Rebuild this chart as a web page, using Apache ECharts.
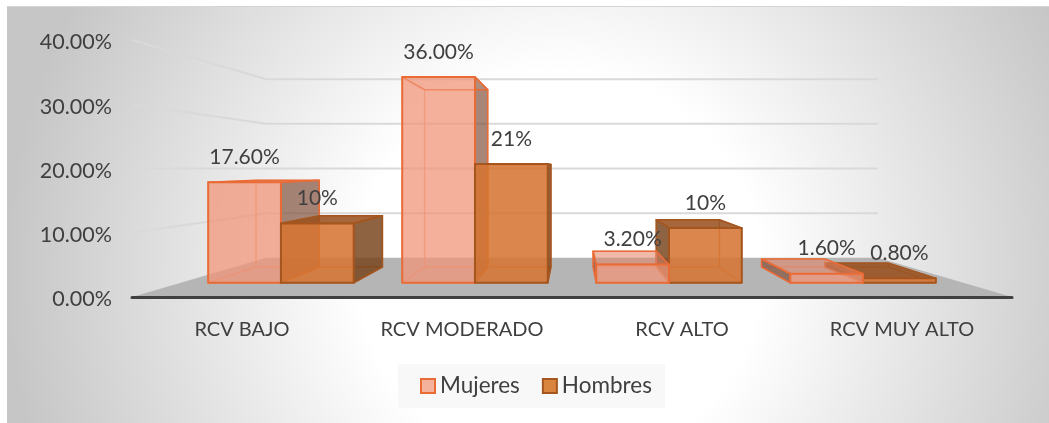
<!DOCTYPE html>
<html>
<head>
<meta charset="utf-8">
<script src="https://cdn.jsdelivr.net/npm/echarts@6/dist/echarts.min.js"></script>
<style>
  html, body { margin: 0; padding: 0; background: #fff; overflow: hidden; }
  #fondo { position: absolute; left: 7px; top: 6px; width: 1042px; height: 417px;
    background: radial-gradient(circle 555px at 553px 264px, #fff 36%, #c6c6c6 100%);
    border-top: 1px solid #d4d4d4; box-sizing: border-box; }
  #chart { position: absolute; left: 0; top: 0; width: 1049px; height: 423px; }
</style>
</head>
<body>
<div id="fondo"></div>
<div id="chart"></div>
<script>
const categorias = ['RCV BAJO', 'RCV MODERADO', 'RCV ALTO', 'RCV MUY ALTO'];
const mujeres = [17.6, 36, 3.2, 1.6];
const hombres = [10.4, 20.8, 9.6, 0.8];
const mujeresTxt = ['17.60%', '36.00%', '3.20%', '1.60%'];
const hombresTxt = ['10%', '21%', '10%', '0.80%'];
const ticksPared = [0, 10, 20, 30, 40];

// Perspectiva: punto de fuga y escala de cada plano de profundidad
const FUGA_X = 572;
const FUGA_VALOR = 20;
const S_PARED = 0.695;
const S_FRENTE = 0.89;
const S_FRENTE_X = 0.882;
const S_FONDO = 0.766;
const ANCHO_BARRA = 0.375;

const font = 'Lato, Carlito, sans-serif';
const gris = '#3f3f3f';

function proyectar(p, s, vy, sx) {
  return [FUGA_X + (sx || s) * (p[0] - FUGA_X), vy + s * (p[1] - vy)];
}

function renderPared(params, api) {
  const v = api.value(0);
  const cs = params.coordSys;
  const vy = api.coord([0, FUGA_VALOR])[1];
  const y = api.coord([0, v])[1];
  const izq = [cs.x, y];
  const der = [cs.x + cs.width, y];
  const fIzq = proyectar(izq, S_PARED, vy);
  const fDer = proyectar(der, S_PARED, vy);
  if (v === 0) {
    return {
      type: 'polygon',
      z2: 0,
      shape: { points: [izq, fIzq, fDer, der] },
      style: { fill: '#b5b5b5' }
    };
  }
  return {
    type: 'polyline',
    z2: 1,
    shape: { points: [izq, fIzq, fDer] },
    style: { fill: 'none', stroke: '#d9d9d9', lineWidth: 2 }
  };
}

function caja(colores, textos, lado) {
  return function (params, api) {
    const i = api.value(0);
    const v = api.value(1);
    const banda = api.size([1, 0])[0];
    const cx = api.coord([i, 0])[0];
    const x0 = cx + (lado < 0 ? -ANCHO_BARRA * banda : 0);
    const x1 = x0 + ANCHO_BARRA * banda;
    const base = api.coord([i, 0])[1];
    const tope = api.coord([i, v])[1];
    const vy = api.coord([0, FUGA_VALOR])[1];

    const f = p => proyectar(p, S_FRENTE, vy, S_FRENTE_X);
    const b = p => proyectar(p, S_FONDO, vy);
    const fbi = f([x0, base]), fbd = f([x1, base]), fti = f([x0, tope]), ftd = f([x1, tope]);
    const bbi = b([x0, base]), bbd = b([x1, base]), bti = b([x0, tope]), btd = b([x1, tope]);

    // orden de pintado: lo mas cercano al punto de fuga va encima
    const z = 10 + (600 - Math.abs((x0 + x1) / 2 - FUGA_X)) / 10;
    const cara = (pts, fill, stroke, ancho, dz) => ({
      type: 'polygon',
      z2: z + dz,
      shape: { points: pts },
      style: { fill, stroke, lineWidth: ancho, lineJoin: 'round' }
    });

    const verDer = btd[0] > ftd[0];
    const verIzq = bti[0] < fti[0];
    const verTop = bti[1] < fti[1];
    const hijos = [
      cara([bbi, bbd, btd, bti], colores.oculta, colores.suave, 1.2, 0),
      cara([fbi, fbd, bbd, bbi], colores.oculta, colores.suave, 1.2, 0.01),
      verIzq ? cara([fbi, bbi, bti, fti], colores.lado, colores.borde, 1.6, 0.02)
             : cara([fbi, bbi, bti, fti], colores.oculta, colores.suave, 1.2, 0.02),
      verDer ? cara([fbd, bbd, btd, ftd], colores.lado, colores.borde, 1.6, 0.03)
             : cara([fbd, bbd, btd, ftd], colores.oculta, colores.suave, 1.2, 0.03),
      verTop ? cara([fti, ftd, btd, bti], colores.arriba, colores.borde, 1.6, 0.04)
             : cara([fti, ftd, btd, bti], colores.oculta, colores.borde, 1.6, 0.04),
      cara([fbi, fbd, ftd, fti], colores.frente, colores.borde, 2, 0.05),
      {
        type: 'text',
        z2: 100,
        style: {
          x: (fti[0] + ftd[0]) / 2,
          y: fti[1] - 25,
          text: textos[i],
          fill: gris,
          font: '21px ' + font,
          align: 'center',
          verticalAlign: 'middle'
        }
      }
    ];
    return { type: 'group', children: hijos };
  };
}

const colorMujeres = {
  frente: 'rgba(240,150,120,0.72)',
  lado: 'rgba(120,75,55,0.65)',
  arriba: 'rgba(225,130,100,0.5)',
  oculta: 'rgba(240,150,120,0.12)',
  suave: 'rgba(240,130,90,0.45)',
  borde: '#e96b36'
};
const colorHombres = {
  frente: 'rgba(214,118,52,0.86)',
  lado: 'rgba(115,65,25,0.8)',
  arriba: 'rgba(150,80,30,0.85)',
  oculta: 'rgba(205,105,40,0.15)',
  suave: 'rgba(200,95,30,0.55)',
  borde: '#a5561f'
};

const chart = echarts.init(document.getElementById('chart'), null, { renderer: 'canvas' });
chart.setOption({
  backgroundColor: 'transparent',
  animation: false,
  grid: { left: 132, right: 37, top: 40, bottom: 126 },
  legend: {
    data: [
      { name: 'Mujeres', itemStyle: { color: '#f4b29c', borderColor: '#e96b36', borderWidth: 2 } },
      { name: 'Hombres', itemStyle: { color: '#d9843f', borderColor: '#a5561f', borderWidth: 2 } }
    ],
    left: 398,
    top: 364,
    padding: [10, 13, 10, 22],
    backgroundColor: '#f8f8f8',
    icon: 'rect',
    itemWidth: 14,
    itemHeight: 14,
    itemGap: 22,
    textStyle: { color: gris, fontFamily: font, fontSize: 22.5, height: 24, lineHeight: 24 }
  },
  xAxis: {
    type: 'category',
    data: categorias,
    z: 5,
    axisLine: { lineStyle: { color: '#404040', width: 3, cap: 'round' } },
    axisTick: { show: false },
    axisLabel: { color: gris, fontFamily: font, fontSize: 20, margin: 23 }
  },
  yAxis: {
    type: 'value',
    min: 0,
    max: 40,
    interval: 10,
    axisLine: { show: false },
    axisTick: { show: false },
    splitLine: { show: false },
    axisLabel: {
      margin: 20,
      formatter: v => '{t|' + v.toFixed(2) + '%}',
      rich: { t: { color: gris, fontFamily: font, fontSize: 21.5, padding: [5, 0, 0, 0] } }
    }
  },
  series: [
    {
      name: 'pared',
      type: 'custom',
      silent: true,
      clip: false,
      renderItem: renderPared,
      data: ticksPared.map(t => [t]),
      encode: { y: 0 }
    },
    {
      name: 'Mujeres',
      type: 'custom',
      clip: false,
      renderItem: caja(colorMujeres, mujeresTxt, -1),
      data: mujeres.map((v, i) => [i, v]),
      encode: { x: 0, y: 1 }
    },
    {
      name: 'Hombres',
      type: 'custom',
      clip: false,
      renderItem: caja(colorHombres, hombresTxt, 1),
      data: hombres.map((v, i) => [i, v]),
      encode: { x: 0, y: 1 }
    }
  ]
});
window.addEventListener('resize', () => chart.resize());
</script>
</body>
</html>
